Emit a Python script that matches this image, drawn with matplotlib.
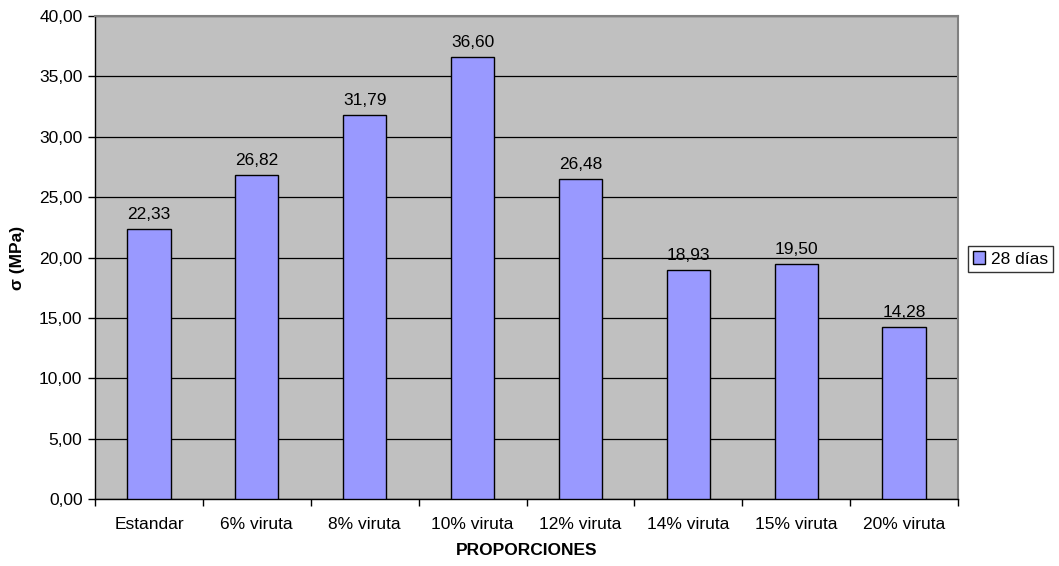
import matplotlib
matplotlib.use("Agg")
import matplotlib.pyplot as plt
from matplotlib.ticker import MultipleLocator, FuncFormatter
import numpy as np

categories = ["Estandar", "6% viruta", "8% viruta", "10% viruta", "12% viruta",
              "14% viruta", "15% viruta", "20% viruta"]
resistencia_28 = [22.33, 26.82, 31.79, 36.60, 26.48, 18.93, 19.50, 14.28]
series_label = "28 días"

plt.rcParams["font.family"] = ["Liberation Sans", "DejaVu Sans"]
FS = 12.5

fig = plt.figure(figsize=(10.59, 5.66), dpi=100)
ax = fig.add_axes([95 / 1059, 1 - 499 / 566, 863 / 1059, (499 - 16) / 566])
ax.set_facecolor("#C0C0C0")

x = np.arange(len(categories))
bars = ax.bar(x, resistencia_28, width=0.4, color="#9999FF", edgecolor="black",
              linewidth=1.0, label=series_label, zorder=3)

fmt = lambda v: f"{v:.2f}".replace(".", ",")
for xi, v in zip(x, resistencia_28):
    ax.annotate(fmt(v), (xi, v), xytext=(0, 5), textcoords="offset points",
                ha="center", va="bottom", fontsize=FS, zorder=4)

ax.set_xlim(-0.5, len(categories) - 0.5)
ax.set_ylim(0, 40)
ax.yaxis.set_major_locator(MultipleLocator(5))
ax.yaxis.set_major_formatter(FuncFormatter(lambda v, p: fmt(v)))
ax.yaxis.grid(True, color="black", linewidth=0.9, zorder=1)
ax.set_axisbelow(True)

ax.set_xticks(x)
ax.set_xticklabels(categories)
ax.set_xticks(np.arange(len(categories) + 1) - 0.5, minor=True)
ax.tick_params(axis="x", which="major", length=0, pad=13, labelsize=FS)
ax.tick_params(axis="x", which="minor", length=5, width=1, color="black")
ax.tick_params(axis="y", length=5, width=1, labelsize=FS, pad=4)

for side in ("top", "right"):
    ax.spines[side].set_color("#808080")
    ax.spines[side].set_linewidth(1.5)
for side in ("left", "bottom"):
    ax.spines[side].set_color("black")
    ax.spines[side].set_linewidth(1.0)

ax.set_xlabel("PROPORCIONES", fontsize=FS, fontweight="bold", labelpad=8)
ax.set_ylabel("σ (MPa)", fontsize=FS, fontweight="bold", labelpad=10)

leg = fig.legend(handles=[bars], labels=[series_label], loc="center left",
                 bbox_to_anchor=(968 / 1059, 1 - 259 / 566), fontsize=FS,
                 frameon=True, fancybox=False, handlelength=0.7, handleheight=0.7,
                 handletextpad=0.3, borderpad=0.3, borderaxespad=0)
leg.get_frame().set_edgecolor("black")
leg.get_frame().set_linewidth(1.0)

fig.savefig("out.png", dpi=100)
